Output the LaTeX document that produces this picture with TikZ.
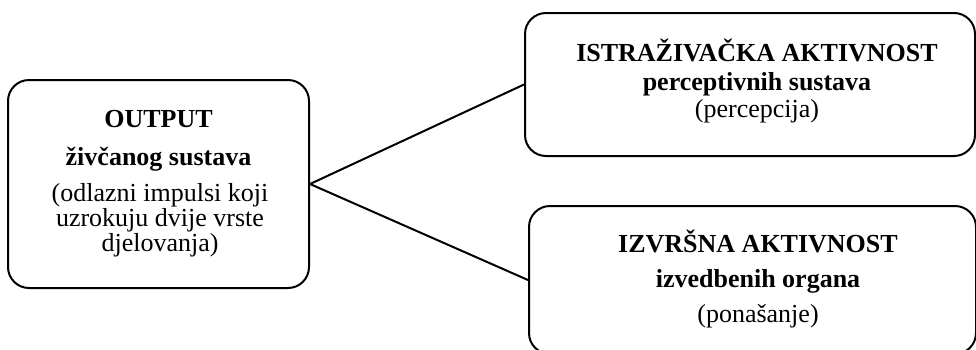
\documentclass[tikz,border=0pt]{standalone}
\usepackage{fontspec}
\setmainfont{Liberation Serif}
\begin{document}
\begin{tikzpicture}[x=1pt,y=-1pt,
  box/.style={draw, line width=2pt, rounded corners=21pt, inner sep=0pt},
  bl/.style={anchor=base, inner sep=0pt, font=\fontsize{26}{26}\selectfont\bfseries},
  rl/.style={anchor=base, inner sep=0pt, font=\fontsize{26}{26}\selectfont},
  link/.style={line width=2pt}]
\useasboundingbox (0,0) rectangle (976,349);
\clip (0,0) rectangle (976,349);
% boxes
\node[box, minimum width=301pt, minimum height=208pt] (out) at (158.5,184) {};
\node[box, minimum width=450pt, minimum height=143pt] (top) at (750,84.5) {};
\node[box, minimum width=447pt, minimum height=148pt] (bot) at (752.5,280) {};
% connectors
\draw[link] (top.west) -- (out.east) -- (bot.west);
% left text
\node[bl] (o1) at (158.5,127) {OUTPUT};
\node[bl] (o2) at (158.5,165) {živčanog sustava};
\node[rl] (o3) at (160,201.5) {(odlazni impulsi koji};
\node[rl] (o4) at (160,226.5) {uzrokuju dvije vrste};
\node[rl] (o5) at (160,251.5) {djelovanja)};
% top text
\node[bl] (t1) at (757,61.5) {ISTRAŽIVAČKA AKTIVNOST};
\node[bl] (t2) at (757,90) {perceptivnih sustava};
\node[rl] (t3) at (757,117) {(percepcija)};
% bottom text
\node[bl] (b1) at (758,252) {IZVRŠNA AKTIVNOST};
\node[bl] (b2) at (758,287) {izvedbenih organa};
\node[rl] (b3) at (758,322) {(ponašanje)};
\end{tikzpicture}
\end{document}
